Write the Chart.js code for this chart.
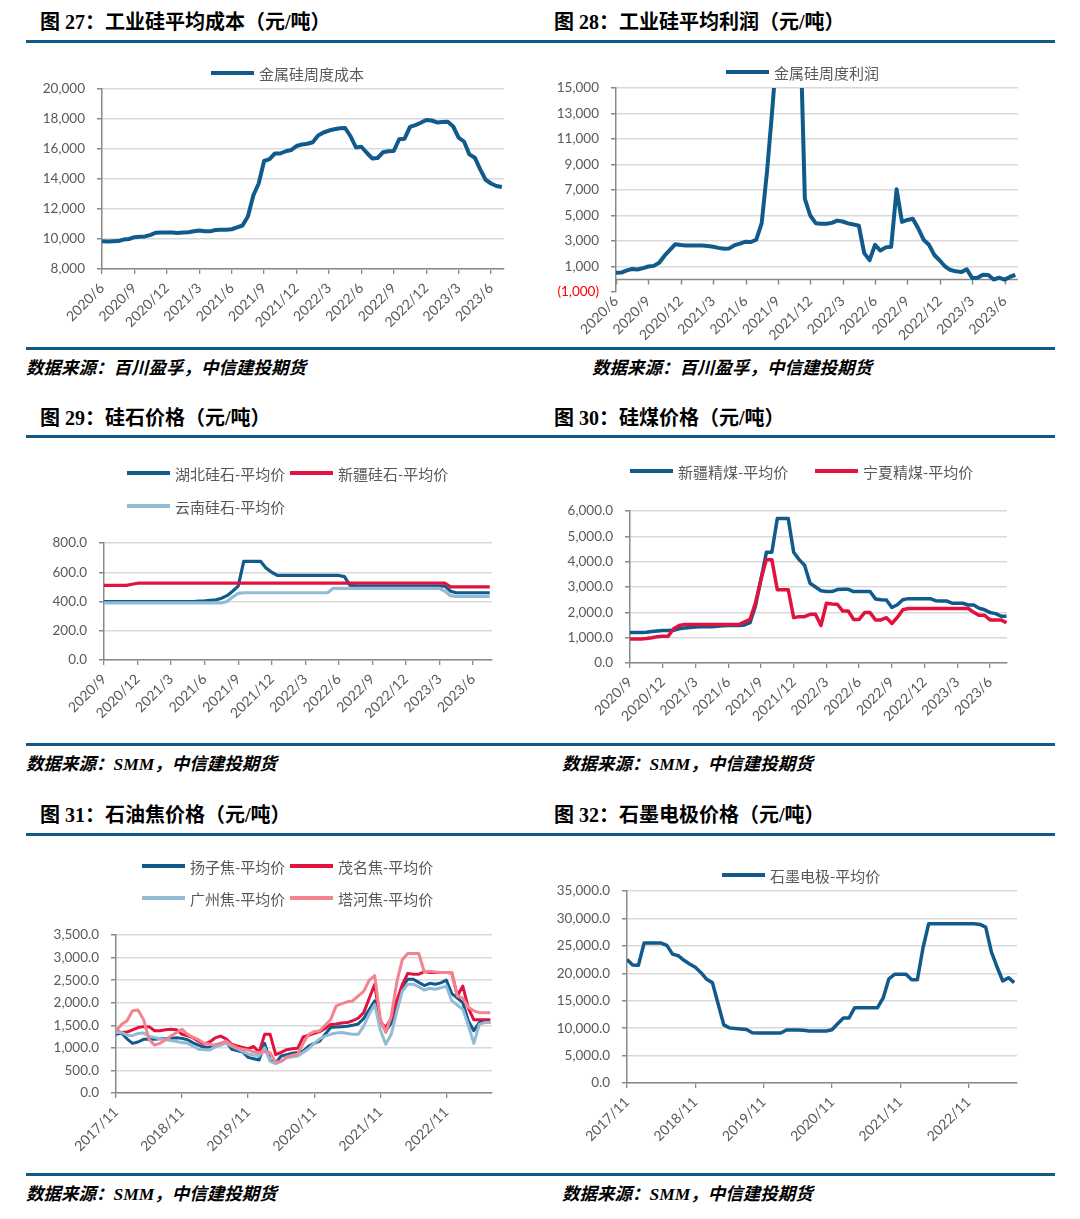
<!DOCTYPE html>
<html lang="zh-CN">
<head>
<meta charset="UTF-8">
<title>工业硅成本利润及原料价格</title>
<script src="https://cdn.jsdelivr.net/npm/chart.js@4.4.0/dist/chart.umd.min.js"></script>
<style>
  body { margin: 0; background: #fff; width: 1080px; height: 1219px; position: relative; overflow: hidden; }
  .title { position: absolute; font-family: "Liberation Serif", "Noto Sans CJK SC", serif; font-weight: bold; font-size: 20px; line-height: 24px; color: #000; white-space: nowrap; }
  .rule { position: absolute; left: 26px; width: 1029px; height: 3px; background: #0f5a8c; }
  .source { position: absolute; font-family: "Liberation Serif", "Noto Sans CJK SC", serif; font-weight: bold; font-style: italic; font-size: 17.5px; line-height: 24px; color: #000; white-space: nowrap; }
  .legend-item { position: absolute; height: 20px; display: flex; align-items: center; font-family: "Noto Sans CJK SC", sans-serif; font-size: 15px; color: #595959; white-space: nowrap; }
  .legend-item i { display: inline-block; width: 43px; height: 4px; margin-right: 5px; }
  canvas { position: absolute; }
</style>
</head>
<body>
  <div class="title" style="left:40px; top:10px;">图 27：工业硅平均成本（元/吨）</div>
  <div class="title" style="left:554px; top:10px;">图 28：工业硅平均利润（元/吨）</div>
  <div class="rule" style="top:40px;"></div>
  <div class="rule" style="top:347px;"></div>
  <div class="source" style="left:26px; top:356px;">数据来源：百川盈孚，中信建投期货</div>
  <div class="source" style="left:592px; top:356px;">数据来源：百川盈孚，中信建投期货</div>

  <div class="title" style="left:40px; top:406px;">图 29：硅石价格（元/吨）</div>
  <div class="title" style="left:554px; top:406px;">图 30：硅煤价格（元/吨）</div>
  <div class="rule" style="top:435px;"></div>
  <div class="rule" style="top:743px;"></div>
  <div class="source" style="left:26px; top:752px;">数据来源：SMM，中信建投期货</div>
  <div class="source" style="left:562px; top:752px;">数据来源：SMM，中信建投期货</div>

  <div class="title" style="left:40px; top:803px;">图 31：石油焦价格（元/吨）</div>
  <div class="title" style="left:554px; top:803px;">图 32：石墨电极价格（元/吨）</div>
  <div class="rule" style="top:833px;"></div>
  <div class="rule" style="top:1173px;"></div>
  <div class="source" style="left:26px; top:1182px;">数据来源：SMM，中信建投期货</div>
  <div class="source" style="left:562px; top:1182px;">数据来源：SMM，中信建投期货</div>

<script>
// ---- data ----
// fig 27 / 28: half-month samples starting 2020/6
const siliconLabels = ['2020/6', '2020/9', '2020/12', '2021/3', '2021/6', '2021/9', '2021/12',
  '2022/3', '2022/6', '2022/9', '2022/12', '2023/3', '2023/6'];
const costName = '金属硅周度成本';
const costValues = [
  9850, 9830, 9850, 9860, 9960, 10000, 10120, 10150, 10170, 10280,
  10420, 10440, 10440, 10430, 10400, 10430, 10450, 10520, 10570, 10520,
  10510, 10600, 10610, 10620, 10650, 10780, 10900, 11500, 12900, 13700,
  15200, 15320, 15700, 15700, 15850, 15930, 16200, 16300, 16350, 16450,
  16900, 17100, 17230, 17320, 17380, 17400, 16850, 16100, 16150, 15750,
  15370, 15400, 15780, 15850, 15870, 16650, 16690, 17480, 17590, 17750,
  17940, 17900, 17770, 17800, 17810, 17500, 16760, 16500, 15640, 15420,
  14640, 13950, 13700, 13530, 13470];
const profitName = '金属硅周度利润';
const profitValues = [
  500, 520, 700, 800, 760, 870, 1000, 1050, 1300, 1850,
  2300, 2750, 2680, 2650, 2650, 2650, 2640, 2600, 2550, 2460,
  2400, 2420, 2680, 2800, 2950, 2920, 3100, 4400, 8500, 13500,
  19000, 24000, 27000, 26000, 22000, 6300, 5000, 4400, 4350, 4350,
  4420, 4600, 4530, 4380, 4300, 4200, 2050, 1500, 2700, 2250,
  2500, 2550, 7050, 4500, 4650, 4750, 4000, 3100, 2700, 1900,
  1470, 1000, 720, 620, 560, 780, 100, 110, 350, 330,
  -20, 120, -30, 180, 350];

// fig 29 / 30: half-month samples starting 2020/9
const materialLabels = ['2020/9', '2020/12', '2021/3', '2021/6', '2021/9', '2021/12',
  '2022/3', '2022/6', '2022/9', '2022/12', '2023/3', '2023/6'];
const hubeiStoneName = '湖北硅石-平均价';
const hubeiStone = [
  400, 400, 400, 400, 400, 400, 400, 400, 400, 400,
  400, 400, 400, 400, 400, 400, 400, 403, 405, 408,
  411, 422, 440, 470, 505, 675, 675, 675, 675, 628,
  600, 578, 578, 578, 578, 578, 578, 578, 578, 578,
  578, 578, 578, 570, 510, 505, 505, 505, 505, 505,
  505, 505, 505, 505, 505, 505, 505, 505, 505, 505,
  505, 505, 470, 460, 460, 460, 460, 460, 460, 460];
const xinjiangStoneName = '新疆硅石-平均价';
const xinjiangStone = [
  510, 510, 510, 510, 510, 518, 525, 525, 525, 525,
  525, 525, 525, 525, 525, 525, 525, 525, 525, 525,
  525, 525, 525, 525, 525, 525, 525, 525, 525, 525,
  525, 525, 525, 525, 525, 525, 525, 525, 525, 525,
  525, 525, 525, 525, 525, 525, 525, 525, 525, 525,
  525, 525, 525, 525, 525, 525, 525, 525, 525, 525,
  525, 525, 500, 500, 500, 500, 500, 500, 500, 500];
const yunnanStoneName = '云南硅石-平均价';
const yunnanStone = [
  390, 390, 390, 390, 390, 390, 390, 390, 390, 390,
  390, 390, 390, 390, 390, 390, 390, 390, 390, 390,
  390, 390, 400, 430, 455, 460, 460, 460, 460, 460,
  460, 460, 460, 460, 460, 460, 460, 460, 460, 460,
  460, 490, 490, 490, 490, 490, 490, 490, 490, 490,
  490, 490, 490, 490, 490, 490, 490, 490, 490, 490,
  490, 470, 440, 435, 435, 435, 435, 435, 435, 435];
const xinjiangCoalName = '新疆精煤-平均价';
const xinjiangCoal = [
  1200, 1200, 1200, 1210, 1240, 1260, 1280, 1280, 1290, 1350,
  1380, 1400, 1420, 1430, 1430, 1430, 1450, 1470, 1480, 1480,
  1480, 1500, 1590, 2250, 3300, 4370, 4370, 5700, 5700, 5700,
  4370, 4080, 3860, 3150, 3000, 2850, 2820, 2820, 2900, 2910,
  2910, 2820, 2820, 2820, 2820, 2530, 2500, 2490, 2190, 2300,
  2500, 2540, 2540, 2540, 2540, 2540, 2460, 2450, 2450, 2360,
  2360, 2360, 2290, 2290, 2160, 2100, 1990, 1950, 1850, 1850];
const ningxiaCoalName = '宁夏精煤-平均价';
const ningxiaCoal = [
  950, 950, 950, 970, 1000, 1040, 1060, 1060, 1350, 1480,
  1520, 1520, 1520, 1520, 1520, 1520, 1520, 1520, 1520, 1520,
  1520, 1620, 1720, 2380, 3300, 4080, 4080, 2890, 2890, 2890,
  1790, 1830, 1830, 1920, 1920, 1480, 2360, 2330, 2320, 2050,
  2050, 1720, 1720, 1990, 1990, 1700, 1700, 1790, 1560, 1800,
  2100, 2150, 2150, 2150, 2150, 2150, 2150, 2150, 2150, 2150,
  2150, 2150, 2150, 2000, 1880, 1880, 1700, 1700, 1700, 1590];

// fig 31 / 32: monthly samples starting 2017/11
const yearLabels = ['2017/11', '2018/11', '2019/11', '2020/11', '2021/11', '2022/11'];
const yangziName = '扬子焦-平均价';
const yangziCoke = [
  1300, 1330, 1200, 1100, 1130, 1190, 1190, 1190, 1200, 1200,
  1210, 1225, 1210, 1180, 1110, 1060, 1010, 1020, 1060, 1100,
  1130, 970, 940, 910, 790, 760, 730, 1100, 720, 660,
  820, 850, 880, 900, 930, 1040, 1100, 1150, 1300, 1450,
  1460, 1470, 1480, 1500, 1530, 1650, 1850, 2040, 1600, 1370,
  1550, 1950, 2350, 2520, 2520, 2450, 2380, 2430, 2410, 2440,
  2500, 2200, 2100, 2000, 1600, 1380, 1560, 1560, 1560];
const maomingName = '茂名焦-平均价';
const maomingCoke = [
  1370, 1340, 1350, 1400, 1450, 1470, 1470, 1380, 1380, 1400,
  1410, 1400, 1300, 1270, 1220, 1150, 1080, 1130, 1220, 1260,
  1200, 1080, 1040, 1010, 980, 1030, 900, 1300, 1300, 850,
  900, 960, 980, 990, 1240, 1280, 1320, 1360, 1430, 1520,
  1530, 1550, 1560, 1600, 1660, 1780, 2100, 2410, 1580, 1450,
  1650, 2050, 2400, 2650, 2630, 2630, 2690, 2670, 2670, 2670,
  2670, 2660, 2150, 2370, 1880, 1620, 1620, 1620, 1620];
const guangzhouName = '广州焦-平均价';
const guangzhouCoke = [
  1340, 1340, 1280, 1270, 1320, 1330, 1260, 1230, 1200, 1180,
  1160, 1140, 1120, 1100, 1040, 970, 960, 950, 1020, 1060,
  1100, 1040, 980, 920, 860, 840, 820, 1000, 700, 650,
  700, 780, 800, 820, 900, 980, 1100, 1200, 1260, 1300,
  1330, 1340, 1320, 1300, 1300, 1480, 1750, 1960, 1400, 1080,
  1300, 1800, 2250, 2410, 2410, 2350, 2280, 2320, 2300, 2330,
  2370, 2040, 1950, 1850, 1500, 1100, 1520, 1560, 1560];
const taheName = '塔河焦-平均价';
const taheCoke = [
  1370, 1520, 1600, 1820, 1840, 1630, 1190, 1060, 1100, 1180,
  1260, 1340, 1410, 1300, 1230, 1180, 1100, 1080, 1060, 1100,
  1150, 1060, 1000, 970, 950, 910, 890, 920, 890, 680,
  700, 800, 830, 860, 1100, 1300, 1360, 1380, 1500, 1630,
  1930, 1980, 2020, 2040, 2150, 2250, 2500, 2600, 1650, 1340,
  1700, 2450, 2950, 3090, 3090, 3090, 2680, 2700, 2680, 2670,
  2670, 2670, 2150, 2100, 1900, 1820, 1780, 1780, 1780];
const electrodeName = '石墨电极-平均价';
const electrodeValues = [
  22500, 21500, 21450, 25500, 25500, 25500, 25500, 25090, 23500, 23200,
  22360, 21700, 21100, 20110, 18900, 18300, 14460, 10600, 10050, 9950,
  9850, 9750, 9150, 9110, 9110, 9110, 9110, 9110, 9660, 9660,
  9660, 9600, 9480, 9480, 9480, 9480, 9700, 10800, 11850, 11850,
  13730, 13730, 13730, 13730, 13730, 15500, 19000, 19810, 19810, 19810,
  18830, 18830, 24700, 29040, 29040, 29040, 29040, 29040, 29040, 29040,
  29040, 29040, 28900, 28430, 23900, 21140, 18600, 19200, 18300];

// ---- styling ----
const ink = { blue: '#105a8c', red: '#e2123f', light: '#93bcd4', pink: '#f4838f',
  axis: '#898989', grid: '#d9d9d9', text: '#595959' };
const xFont = { family: 'Lato, "Noto Sans", sans-serif', size: 14 };
const yFont = { family: 'Lato, "Noto Sans", sans-serif', size: 13.5 };

const fmtInt = v => v.toLocaleString('en-US');
const fmtOne = v => v.toLocaleString('en-US', { minimumFractionDigits: 1, maximumFractionDigits: 1 });

function addLegend(items) {
  items.forEach(it => {
    const d = document.createElement('div');
    d.className = 'legend-item';
    d.style.left = it.x + 'px';
    d.style.top = (it.y - 10) + 'px';
    d.innerHTML = '<i style="background:' + it.color + '"></i>';
    d.appendChild(document.createTextNode(it.label));
    document.body.appendChild(d);
  });
}

// draws the x axis line at y = 0 (fig 28 has values below zero)
const zeroAxis = {
  id: 'zeroAxis',
  beforeDatasetsDraw(chart) {
    const { ctx, chartArea: a, scales: { x, y } } = chart;
    const y0 = Math.round(y.getPixelForValue(0)) + 0.5;
    ctx.save();
    ctx.strokeStyle = ink.axis;
    ctx.lineWidth = 1.5;
    ctx.beginPath();
    ctx.moveTo(a.left, y0);
    ctx.lineTo(a.right, y0);
    x.ticks.forEach(t => {
      const px = Math.round(x.getPixelForValue(t.value)) + 0.5;
      ctx.moveTo(px, y0);
      ctx.lineTo(px, y0 + 5);
    });
    ctx.stroke();
    ctx.restore();
  }
};

function lineChart(cfg) {
  const [bx, by, bw, bh] = cfg.box;
  const [pl, pt, pr, pb] = cfg.plot;
  const c = document.createElement('canvas');
  c.width = bw; c.height = bh;
  c.style.left = bx + 'px'; c.style.top = by + 'px';
  document.body.appendChild(c);

  const n = cfg.series.length;
  const options = {
    responsive: false, animation: false, devicePixelRatio: 1,
    layout: { padding: { left: pl - bx - cfg.yWidth, top: pt - by, right: bx + bw - pr, bottom: by + bh - pb - cfg.xHeight } },
    plugins: { legend: { display: false }, tooltip: { enabled: false } },
    scales: {
      x: {
        type: 'linear', min: 0, max: cfg.xMax,
        afterFit: s => { s.height = cfg.xHeight; },
        grid: { drawOnChartArea: false, tickLength: 5, tickColor: ink.axis, lineWidth: 1.3 },
        border: { color: ink.axis, width: 1.5 },
        ticks: {
          stepSize: cfg.tickEvery, includeBounds: false, autoSkip: false,
          minRotation: 45, maxRotation: 45, padding: 6, color: ink.text, font: xFont,
          callback: v => cfg.labels[Math.round(v / cfg.tickEvery)]
        }
      },
      y: {
        min: cfg.yMin, max: cfg.yMax,
        afterFit: s => { s.width = cfg.yWidth; },
        grid: { color: ink.grid, lineWidth: 1.5, tickLength: 5, tickColor: ink.axis },
        border: { color: ink.axis, width: 1.5 },
        ticks: { stepSize: cfg.yStep, padding: 12, color: ink.text, font: yFont, callback: cfg.yFormat }
      }
    }
  };
  if (cfg.tweak) cfg.tweak(options);

  new Chart(c, {
    type: 'line',
    data: {
      datasets: cfg.series.map((s, i) => ({
        label: s.name,
        data: s.values.map((v, k) => ({ x: k * cfg.step, y: v })),
        borderColor: s.color, borderWidth: cfg.lineWidth, pointRadius: 0, tension: 0,
        borderJoinStyle: 'round', order: n - i
      }))
    },
    options,
    plugins: cfg.plugins || []
  });

  addLegend(cfg.series.map(s => ({ label: s.name, color: s.color, x: s.lx, y: s.ly })));
}

// fig 27
lineChart({
  box: [26, 50, 510, 292], plot: [102, 89, 504, 269], yWidth: 60, xHeight: 62,
  step: 0.5, xMax: 37.2, tickEvery: 3, labels: siliconLabels,
  yMin: 8000, yMax: 20000, yStep: 2000, yFormat: fmtInt, lineWidth: 4,
  series: [{ name: costName, values: costValues, color: ink.blue, lx: 211, ly: 73 }]
});

// fig 28
lineChart({
  box: [540, 50, 516, 294], plot: [616, 88, 1018, 292], yWidth: 60, xHeight: 50,
  step: 0.5, xMax: 37.25, tickEvery: 3, labels: siliconLabels,
  yMin: -1000, yMax: 15000, yStep: 2000, lineWidth: 4,
  yFormat: v => v < 0 ? '(' + fmtInt(-v) + ')' : fmtInt(v),
  series: [{ name: profitName, values: profitValues, color: ink.blue, lx: 726, ly: 72 }],
  plugins: [zeroAxis],
  tweak: o => {
    o.scales.x.grid = { display: false, drawTicks: false, tickLength: 0 };
    o.scales.x.border = { display: false };
    o.scales.x.ticks.padding = 1;
    o.scales.y.grid.color = ctx => (ctx.tick && ctx.tick.value < 0) ? 'rgba(0,0,0,0)' : ink.grid;
    o.scales.y.ticks.color = ctx => (ctx.tick && ctx.tick.value < 0) ? '#ff0000' : ink.text;
  }
});

// fig 29
lineChart({
  box: [26, 445, 510, 293], plot: [104, 543, 492, 660], yWidth: 60, xHeight: 62,
  step: 0.5, xMax: 34.7, tickEvery: 3, labels: materialLabels,
  yMin: 0, yMax: 800, yStep: 200, yFormat: fmtOne, lineWidth: 3.2,
  series: [
    { name: hubeiStoneName, values: hubeiStone, color: ink.blue, lx: 127, ly: 473 },
    { name: xinjiangStoneName, values: xinjiangStone, color: ink.red, lx: 290, ly: 473 },
    { name: yunnanStoneName, values: yunnanStone, color: ink.light, lx: 127, ly: 506 }
  ]
});

// fig 30
lineChart({
  box: [540, 445, 516, 293], plot: [630, 511, 1007, 663], yWidth: 70, xHeight: 62,
  step: 0.5, xMax: 34.55, tickEvery: 3, labels: materialLabels,
  yMin: 0, yMax: 6000, yStep: 1000, yFormat: fmtOne, lineWidth: 3.5,
  series: [
    { name: xinjiangCoalName, values: xinjiangCoal, color: ink.blue, lx: 630, ly: 471 },
    { name: ningxiaCoalName, values: ningxiaCoal, color: ink.red, lx: 815, ly: 471 }
  ]
});

// fig 31
lineChart({
  box: [26, 842, 510, 326], plot: [116, 935, 492, 1093], yWidth: 70, xHeight: 62,
  step: 1, xMax: 68.3, tickEvery: 12, labels: yearLabels,
  yMin: 0, yMax: 3500, yStep: 500, yFormat: fmtOne, lineWidth: 3,
  series: [
    { name: yangziName, values: yangziCoke, color: ink.blue, lx: 142, ly: 866 },
    { name: maomingName, values: maomingCoke, color: ink.red, lx: 290, ly: 866 },
    { name: guangzhouName, values: guangzhouCoke, color: ink.light, lx: 142, ly: 898 },
    { name: taheName, values: taheCoke, color: ink.pink, lx: 290, ly: 898 }
  ]
});

// fig 32
lineChart({
  box: [540, 842, 516, 326], plot: [627, 891, 1017, 1083], yWidth: 75, xHeight: 62,
  step: 1, xMax: 68.5, tickEvery: 12, labels: yearLabels,
  yMin: 0, yMax: 35000, yStep: 5000, yFormat: fmtOne, lineWidth: 3.5,
  series: [{ name: electrodeName, values: electrodeValues, color: ink.blue, lx: 722, ly: 875 }]
});
</script>
</body>
</html>
